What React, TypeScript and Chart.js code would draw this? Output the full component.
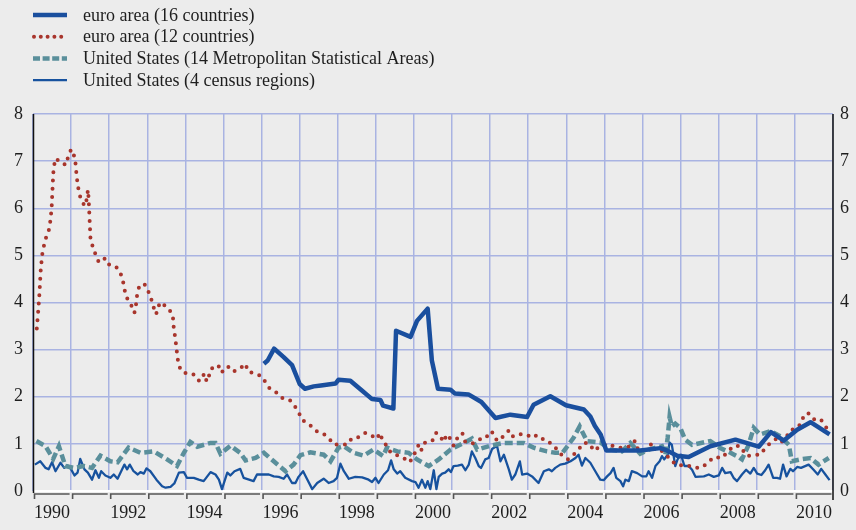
import React, { useEffect, useRef } from "react";
import { Chart, registerables } from "chart.js";

Chart.register(...registerables);

const yearTicksMin = 1990;
const yearTicksMax = 2011;
const valueTicks = [0, 1, 2, 3, 4, 5, 6, 7, 8];

const labelEuro16 = "euro area (16 countries)";
const labelEuro12 = "euro area (12 countries)";
const labelUS14 = "United States (14 Metropolitan Statistical Areas)";
const labelUS4 = "United States (4 census regions)";

const euro16Years = [1996.06, 1996.16, 1996.33, 1996.58, 1996.8, 1997.0, 1997.14, 1997.37, 1997.56, 1997.94, 1998.02, 1998.33, 1998.61, 1998.9, 1999.12, 1999.19, 1999.46, 1999.53, 1999.91, 2000.08, 2000.36, 2000.47, 2000.63, 2000.96, 2001.07, 2001.43, 2001.77, 2002.14, 2002.53, 2002.97, 2003.14, 2003.58, 2003.99, 2004.46, 2004.63, 2004.75, 2004.9, 2005.05, 2005.42, 2005.94, 2006.47, 2006.64, 2006.91, 2007.21, 2007.78, 2008.44, 2009.05, 2009.37, 2009.71, 2010.06, 2010.41, 2010.91];
const euro16Values = [2.7, 2.77, 3.02, 2.84, 2.67, 2.27, 2.17, 2.22, 2.24, 2.28, 2.36, 2.34, 2.15, 1.95, 1.93, 1.81, 1.75, 3.4, 3.27, 3.61, 3.87, 2.77, 2.17, 2.15, 2.07, 2.05, 1.89, 1.55, 1.62, 1.57, 1.83, 2.01, 1.82, 1.73, 1.58, 1.38, 1.2, 0.86, 0.86, 0.86, 0.91, 0.86, 0.75, 0.72, 0.95, 1.09, 0.94, 1.25, 1.07, 1.3, 1.46, 1.2];

const euro12Years = [1990.1, 1990.14, 1990.17, 1990.2, 1990.24, 1990.28, 1990.33, 1990.41, 1990.46, 1990.49, 1990.51, 1990.53, 1990.55, 1990.6, 1990.73, 1990.87, 1990.92, 1991.0, 1991.06, 1991.11, 1991.15, 1991.21, 1991.29, 1991.36, 1991.42, 1991.44, 1991.46, 1991.47, 1991.49, 1991.51, 1991.57, 1991.65, 1991.73, 1991.81, 1991.9, 1992.01, 1992.2, 1992.31, 1992.37, 1992.41, 1992.47, 1992.58, 1992.66, 1992.69, 1992.74, 1992.79, 1992.92, 1993.02, 1993.1, 1993.22, 1993.28, 1993.32, 1993.42, 1993.55, 1993.67, 1993.69, 1993.74, 1993.79, 1993.82, 1993.9, 1994.09, 1994.22, 1994.3, 1994.38, 1994.5, 1994.56, 1994.61, 1994.66, 1994.77, 1994.86, 1994.95, 1995.05, 1995.18, 1995.27, 1995.42, 1995.58, 1995.64, 1995.83, 1996.01, 1996.11, 1996.21, 1996.39, 1996.55, 1996.74, 1996.88, 1996.99, 1997.08, 1997.26, 1997.4, 1997.54, 1997.67, 1997.77, 1997.89, 1998.05, 1998.26, 1998.37, 1998.55, 1998.72, 1998.86, 1999.01, 1999.12, 1999.16, 1999.28, 1999.4, 1999.56, 1999.73, 1999.89, 2000.08, 2000.13, 2000.2, 2000.3, 2000.5, 2000.58, 2000.68, 2000.77, 2000.87, 2000.97, 2001.04, 2001.13, 2001.27, 2001.34, 2001.52, 2001.73, 2001.84, 2001.95, 2002.04, 2002.13, 2002.22, 2002.37, 2002.5, 2002.6, 2002.78, 2002.97, 2003.16, 2003.27, 2003.45, 2003.61, 2003.76, 2003.89, 2004.04, 2004.19, 2004.33, 2004.46, 2004.6, 2004.73, 2004.88, 2005.09, 2005.3, 2005.51, 2005.68, 2005.8, 2005.86, 2006.1, 2006.25, 2006.31, 2006.45, 2006.62, 2006.75, 2006.9, 2007.19, 2007.36, 2007.56, 2007.71, 2007.87, 2008.09, 2008.24, 2008.4, 2008.57, 2008.72, 2008.84, 2008.94, 2009.09, 2009.22, 2009.36, 2009.5, 2009.62, 2009.75, 2009.88, 2010.02, 2010.15, 2010.23, 2010.34, 2010.49, 2010.67, 2010.8, 2010.93];
const euro12Values = [3.45, 3.85, 4.2, 4.66, 5.01, 5.18, 5.35, 5.51, 5.75, 6.02, 6.37, 6.72, 6.9, 7.06, 6.96, 6.92, 7.09, 7.25, 7.17, 7.0, 6.65, 6.31, 6.14, 6.05, 6.22, 6.39, 6.22, 6.04, 5.68, 5.34, 5.18, 5.0, 4.85, 4.89, 4.94, 4.79, 4.74, 4.59, 4.42, 4.25, 4.09, 3.94, 3.78, 3.86, 4.21, 4.34, 4.4, 4.25, 4.08, 3.75, 3.83, 4.0, 3.96, 3.88, 3.73, 3.5, 3.21, 2.86, 2.68, 2.54, 2.47, 2.47, 2.37, 2.33, 2.49, 2.32, 2.41, 2.58, 2.64, 2.67, 2.51, 2.63, 2.63, 2.54, 2.59, 2.7, 2.54, 2.49, 2.43, 2.3, 2.18, 2.09, 1.97, 1.93, 1.79, 1.64, 1.5, 1.41, 1.29, 1.23, 1.19, 1.12, 0.99, 0.98, 0.99, 1.12, 1.14, 1.23, 1.2, 1.1, 1.23, 1.1, 0.96, 0.8, 0.76, 0.7, 0.61, 0.89, 1.0, 0.87, 1.04, 1.08, 1.23, 1.19, 1.04, 1.2, 1.09, 0.96, 1.11, 1.23, 1.05, 1.0, 1.1, 1.1, 1.19, 1.27, 1.11, 1.06, 1.18, 1.29, 1.16, 1.21, 1.16, 1.21, 1.11, 1.1, 1.0, 0.88, 0.75, 0.67, 0.77, 0.89, 1.02, 1.01, 0.85, 0.95, 1.0, 0.93, 0.91, 0.95, 1.06, 0.91, 0.86, 1.02, 0.89, 0.89, 0.77, 0.65, 0.55, 0.54, 0.49, 0.5, 0.6, 0.72, 0.7, 0.84, 0.96, 0.95, 0.75, 0.75, 0.77, 0.77, 0.91, 1.02, 1.1, 1.02, 1.11, 1.29, 1.32, 1.42, 1.59, 1.66, 1.52, 1.53, 1.37, 1.25];

const us14Years = [1990.09, 1990.33, 1990.53, 1990.68, 1990.85, 1991.07, 1991.33, 1991.55, 1991.77, 1992.03, 1992.22, 1992.51, 1992.82, 1993.17, 1993.52, 1993.78, 1993.96, 1994.13, 1994.31, 1994.66, 1994.79, 1994.92, 1995.18, 1995.44, 1995.58, 1995.84, 1996.06, 1996.32, 1996.63, 1996.84, 1997.02, 1997.28, 1997.63, 1997.81, 1998.02, 1998.16, 1998.42, 1998.68, 1998.94, 1999.19, 1999.29, 1999.56, 1999.86, 2000.08, 2000.39, 2000.65, 2000.96, 2001.31, 2001.52, 2001.66, 2002.0, 2002.36, 2002.88, 2003.14, 2003.49, 2003.71, 2003.9, 2004.19, 2004.35, 2004.54, 2004.89, 2005.16, 2005.46, 2005.68, 2005.94, 2006.2, 2006.51, 2006.6, 2006.66, 2006.71, 2006.77, 2006.86, 2006.99, 2007.12, 2007.3, 2007.78, 2008.04, 2008.31, 2008.48, 2008.61, 2008.77, 2008.92, 2009.08, 2009.36, 2009.62, 2009.84, 2009.92, 2010.14, 2010.41, 2010.62, 2010.89];
const us14Values = [1.06, 0.95, 0.68, 0.95, 0.53, 0.49, 0.53, 0.49, 0.75, 0.63, 0.61, 0.92, 0.81, 0.84, 0.67, 0.53, 0.81, 1.04, 0.94, 1.02, 1.02, 0.79, 0.96, 0.81, 0.65, 0.7, 0.81, 0.63, 0.42, 0.56, 0.76, 0.82, 0.77, 0.63, 0.92, 0.95, 0.81, 0.75, 0.88, 0.74, 0.92, 0.84, 0.81, 0.67, 0.53, 0.67, 0.88, 1.02, 1.11, 0.88, 0.96, 1.02, 1.02, 0.92, 0.84, 0.81, 0.81, 1.13, 1.37, 1.06, 1.03, 0.88, 0.84, 1.02, 0.79, 0.89, 0.95, 0.77, 1.13, 1.57, 1.37, 1.43, 1.34, 1.09, 0.98, 1.06, 0.91, 0.81, 0.74, 0.67, 0.95, 1.34, 1.2, 1.27, 1.16, 0.98, 0.63, 0.67, 0.7, 0.56, 0.7];

const us4Years = [1990.05, 1990.19, 1990.33, 1990.41, 1990.5, 1990.59, 1990.72, 1990.82, 1990.91, 1991.0, 1991.09, 1991.17, 1991.24, 1991.35, 1991.44, 1991.55, 1991.64, 1991.73, 1991.79, 1991.9, 1992.03, 1992.12, 1992.22, 1992.4, 1992.47, 1992.54, 1992.64, 1992.75, 1992.82, 1992.91, 1992.98, 1993.08, 1993.24, 1993.39, 1993.48, 1993.61, 1993.71, 1993.83, 1993.96, 1994.04, 1994.22, 1994.35, 1994.48, 1994.66, 1994.79, 1994.88, 1994.96, 1995.1, 1995.18, 1995.29, 1995.44, 1995.53, 1995.79, 1995.88, 1996.19, 1996.32, 1996.45, 1996.58, 1996.67, 1996.8, 1996.89, 1996.97, 1997.09, 1997.19, 1997.33, 1997.46, 1997.63, 1997.76, 1997.89, 1997.98, 1998.07, 1998.16, 1998.29, 1998.46, 1998.64, 1998.81, 1998.9, 1998.99, 1999.07, 1999.21, 1999.32, 1999.4, 1999.47, 1999.56, 1999.64, 1999.77, 1999.95, 2000.04, 2000.12, 2000.21, 2000.3, 2000.36, 2000.43, 2000.52, 2000.59, 2000.65, 2000.74, 2000.82, 2000.91, 2000.97, 2001.04, 2001.15, 2001.26, 2001.35, 2001.44, 2001.52, 2001.61, 2001.7, 2001.76, 2001.87, 2001.96, 2002.05, 2002.18, 2002.27, 2002.36, 2002.49, 2002.57, 2002.66, 2002.78, 2002.84, 2002.97, 2003.1, 2003.27, 2003.41, 2003.54, 2003.62, 2003.71, 2003.84, 2003.97, 2004.11, 2004.24, 2004.32, 2004.41, 2004.5, 2004.63, 2004.76, 2004.89, 2004.98, 2005.07, 2005.16, 2005.24, 2005.31, 2005.42, 2005.49, 2005.55, 2005.64, 2005.72, 2005.86, 2005.99, 2006.1, 2006.16, 2006.25, 2006.34, 2006.45, 2006.51, 2006.57, 2006.66, 2006.71, 2006.77, 2006.86, 2006.92, 2007.01, 2007.1, 2007.21, 2007.3, 2007.39, 2007.61, 2007.74, 2007.87, 2008.0, 2008.09, 2008.17, 2008.31, 2008.39, 2008.48, 2008.61, 2008.72, 2008.83, 2008.92, 2009.01, 2009.12, 2009.22, 2009.31, 2009.43, 2009.53, 2009.61, 2009.69, 2009.78, 2009.88, 2009.95, 2010.06, 2010.16, 2010.36, 2010.49, 2010.6, 2010.69, 2010.8, 2010.91];
const us4Values = [0.56, 0.63, 0.49, 0.46, 0.61, 0.42, 0.6, 0.49, 0.54, 0.46, 0.33, 0.39, 0.68, 0.46, 0.39, 0.24, 0.44, 0.28, 0.42, 0.33, 0.28, 0.35, 0.26, 0.56, 0.46, 0.56, 0.42, 0.35, 0.4, 0.37, 0.48, 0.42, 0.24, 0.1, 0.07, 0.09, 0.16, 0.39, 0.4, 0.28, 0.28, 0.24, 0.21, 0.4, 0.35, 0.24, 0.04, 0.39, 0.33, 0.42, 0.47, 0.28, 0.21, 0.35, 0.35, 0.31, 0.3, 0.26, 0.35, 0.17, 0.17, 0.3, 0.42, 0.26, 0.04, 0.17, 0.26, 0.17, 0.21, 0.28, 0.58, 0.42, 0.26, 0.3, 0.29, 0.24, 0.19, 0.28, 0.17, 0.35, 0.44, 0.65, 0.46, 0.37, 0.42, 0.28, 0.21, 0.19, 0.07, 0.24, 0.07, 0.21, 0.04, 0.44, 0.04, 0.3, 0.37, 0.39, 0.46, 0.4, 0.53, 0.54, 0.56, 0.44, 0.56, 0.84, 0.7, 0.53, 0.49, 0.67, 0.7, 0.89, 0.96, 0.63, 0.77, 0.46, 0.24, 0.35, 0.63, 0.35, 0.37, 0.31, 0.17, 0.42, 0.46, 0.42, 0.49, 0.56, 0.58, 0.63, 0.7, 0.77, 0.54, 0.7, 0.6, 0.42, 0.24, 0.23, 0.31, 0.38, 0.49, 0.28, 0.21, 0.1, 0.24, 0.21, 0.42, 0.38, 0.31, 0.31, 0.42, 0.28, 0.53, 0.63, 0.74, 0.67, 0.77, 1.03, 0.98, 0.53, 0.67, 0.77, 0.53, 0.53, 0.45, 0.3, 0.31, 0.35, 0.3, 0.33, 0.49, 0.38, 0.4, 0.28, 0.21, 0.35, 0.45, 0.37, 0.49, 0.37, 0.34, 0.44, 0.56, 0.28, 0.28, 0.26, 0.56, 0.31, 0.47, 0.42, 0.51, 0.49, 0.56, 0.45, 0.35, 0.47, 0.35, 0.23];

const BG = "#ececec";
const GRID = "#a9b3e2";
const TEXT = "#1e1e1e";
const FONT = '"Liberation Serif", "Times New Roman", serif';

const toPoints = (xs: number[], ys: number[]) => xs.map((x, i) => ({ x, y: ys[i] }));

const bgPlugin = {
  id: "bg",
  beforeDraw(chart: any) {
    const c = chart.ctx;
    c.save();
    c.fillStyle = BG;
    c.fillRect(0, 0, chart.width, chart.height);
    c.restore();
  },
};

const decorPlugin = {
  id: "decor",
  afterDraw(chart: any) {
    const c = chart.ctx;
    const a = chart.chartArea;
    const xs = chart.scales.x;
    c.save();
    c.strokeStyle = "#111";
    c.lineWidth = 1.5;
    c.beginPath();
    c.moveTo(a.left + 0.5, a.top);
    c.lineTo(a.left + 0.5, a.bottom + 2);
    c.moveTo(a.right, a.top);
    c.lineTo(a.right, a.bottom + 9);
    c.stroke();
    c.strokeStyle = "#555";
    c.lineWidth = 1.6;
    for (let yr = yearTicksMin; yr < yearTicksMax; yr++) {
      const x0 = xs.getPixelForValue(yr) + 1.5;
      const x1 = xs.getPixelForValue(yr + 1) - 1.5;
      c.beginPath();
      c.moveTo(x0, a.bottom + 8);
      c.lineTo(x0, a.bottom + 3);
      c.lineTo(x1, a.bottom + 3);
      c.stroke();
    }
    const ds = chart.data.datasets;
    const legendDash: any[] = [[], [0, 6.8], [7, 2.6], []];
    ds.forEach((d: any, i: number) => {
      const y = 15 + i * 21.7;
      c.save();
      c.strokeStyle = d.borderColor;
      c.lineWidth = d.borderWidth;
      c.lineCap = d.borderCapStyle || "butt";
      c.setLineDash(legendDash[i]);
      c.beginPath();
      c.moveTo(i === 1 ? 34 : 33, y);
      c.lineTo(67, y);
      c.stroke();
      c.restore();
      c.fillStyle = TEXT;
      c.font = "18px " + FONT;
      c.textBaseline = "middle";
      c.textAlign = "left";
      c.fillText(d.label, 83, y + 1);
    });
    c.restore();
  },
};

export default function App() {
  const ref = useRef<HTMLCanvasElement | null>(null);

  useEffect(() => {
    document.body.style.margin = "0";
    document.body.style.background = BG;
    const canvas = ref.current;
    if (!canvas) return;
    const chart = new Chart(canvas, {
      type: "line",
      data: {
        datasets: [
          {
            label: labelEuro16,
            data: toPoints(euro16Years, euro16Values),
            borderColor: "#1a4f9e",
            borderWidth: 4.5,
            pointRadius: 0,
            tension: 0,
            borderJoinStyle: "round",
            order: 0,
          },
          {
            label: labelEuro12,
            data: toPoints(euro12Years, euro12Values),
            borderColor: "#a8352c",
            borderWidth: 4,
            borderDash: [0, 8.3],
            borderCapStyle: "round",
            pointRadius: 0,
            tension: 0,
            order: 1,
          },
          {
            label: labelUS14,
            data: toPoints(us14Years, us14Values),
            borderColor: "#5a8f9b",
            borderWidth: 4.5,
            borderDash: [8, 4],
            pointRadius: 0,
            tension: 0,
            order: 2,
          },
          {
            label: labelUS4,
            data: toPoints(us4Years, us4Values),
            borderColor: "#17529e",
            borderWidth: 2.3,
            pointRadius: 0,
            tension: 0,
            borderJoinStyle: "round",
            order: 3,
          },
        ] as any,
      },
      options: {
        responsive: false,
        animation: false,
        devicePixelRatio: 1,
        layout: { padding: { top: 114, left: 0, right: 0, bottom: 0 } },
        plugins: { legend: { display: false }, tooltip: { enabled: false } },
        scales: {
          x: {
            type: "linear",
            min: yearTicksMin,
            max: yearTicksMax,
            afterFit: (s: any) => {
              s.height = 39;
            },
            afterBuildTicks: (s: any) => {
              const t = [];
              for (let v = yearTicksMin; v <= yearTicksMax; v++) t.push({ value: v });
              s.ticks = t;
            },
            grid: { color: GRID, lineWidth: 1.5, drawTicks: false },
            border: { display: false },
            ticks: {
              autoSkip: false,
              maxRotation: 0,
              padding: 11,
              labelOffset: 19,
              color: TEXT,
              font: { family: FONT, size: 18 },
              callback: (v: any) => (v % 2 === 0 && v < yearTicksMax ? String(v) : ""),
            },
          },
          y: {
            position: "left",
            min: valueTicks[0],
            max: valueTicks[valueTicks.length - 1],
            afterFit: (s: any) => {
              s.width = 33;
            },
            grid: {
              color: (ctx: any) => (ctx.tick && ctx.tick.value === 0 ? "#ffffff" : GRID),
              lineWidth: (ctx: any) => (ctx.tick && ctx.tick.value === 0 ? 2 : 1.5),
              drawTicks: false,
            },
            border: { display: false },
            ticks: { stepSize: 1, padding: 10, color: TEXT, font: { family: FONT, size: 18 } },
          },
          y2: {
            position: "right",
            min: valueTicks[0],
            max: valueTicks[valueTicks.length - 1],
            afterFit: (s: any) => {
              s.width = 23;
            },
            grid: { display: false, drawTicks: false },
            border: { display: false },
            ticks: { stepSize: 1, padding: 7, color: TEXT, font: { family: FONT, size: 18 } },
          },
        },
      } as any,
      plugins: [bgPlugin, decorPlugin],
    });
    return () => chart.destroy();
  }, []);

  return (
    <div style={{ width: 856, height: 530, background: BG }}>
      <canvas ref={ref} width={856} height={530} style={{ display: "block" }} />
    </div>
  );
}
